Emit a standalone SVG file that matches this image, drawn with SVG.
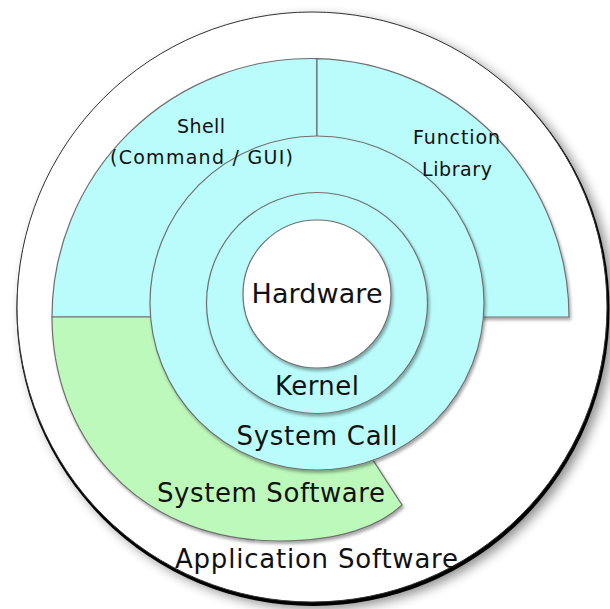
<svg xmlns="http://www.w3.org/2000/svg" width="610" height="609" viewBox="0 0 610 609">
<defs>
<filter id="sh" x="-10%" y="-10%" width="130%" height="130%"><feDropShadow dx="1.5" dy="2.5" stdDeviation="1.5" flood-color="#000" flood-opacity="0.35"/></filter>
<filter id="big" x="-10%" y="-10%" width="125%" height="125%"><feGaussianBlur stdDeviation="6"/></filter>
</defs>
<style>
.blue{fill:#bafcfc;stroke:#707070;stroke-width:1.2}
.green{fill:#bdf9bb;stroke:#707070;stroke-width:1.2}
.white{fill:#fff;stroke:#707070;stroke-width:1.2}
text{font-family:"DejaVu Sans","Liberation Sans",sans-serif;fill:#111;text-anchor:middle}
.s{font-size:19px}
.m{font-size:26px}
</style>
<rect width="610" height="609" fill="#fff"/>
<g id="application-software">
<circle cx="318" cy="313" r="296" fill="#000" opacity="0.45" filter="url(#big)"/>
<circle cx="313" cy="309.5" r="296.5" fill="#000"/>
<circle cx="312" cy="307" r="295" fill="#fff" stroke="#333" stroke-width="1"/>
<text class="m" x="316.5" y="568" textLength="283">Application Software</text>
</g>
<g id="shell">
<path class="blue" filter="url(#sh)" d="M 52 317 A 258.5 258.5 0 0 1 317 58.6 L 317 317 Z"/>
</g>
<g id="function-library">
<path class="blue" filter="url(#sh)" d="M 317 58.6 A 258.5 258.5 0 0 1 569 317 L 317 317 Z"/>
</g>
<g id="system-software">
<path class="green" filter="url(#sh)" d="M 52 317 C 52 430 130 541 280 541 C 340 541 380 526 402 505 L 360 440 L 317 317 Z"/>
</g>
<g id="system-call">
<circle class="blue" filter="url(#sh)" cx="317" cy="303" r="167"/>
</g>
<g id="kernel">
<circle class="blue" filter="url(#sh)" cx="317" cy="303" r="110.5"/>
</g>
<g id="hardware">
<circle class="white" filter="url(#sh)" cx="317" cy="294" r="74"/>
<text class="m" x="317" y="303" textLength="131" style="font-size:27px">Hardware</text>
</g>
<g id="labels">
<g id="shell-label">
<text class="s" x="201" y="133" textLength="48">Shell</text>
<text class="s" x="201.5" y="164" textLength="183">(Command / GUI)</text>
</g>
<g id="function-library-label">
<text class="s" x="456.5" y="144" textLength="87">Function</text>
<text class="s" x="457" y="176" textLength="70">Library</text>
</g>
<text id="system-software-label" class="m" x="271" y="502" textLength="228">System Software</text>
<text id="system-call-label" class="m" x="317" y="445" textLength="161">System Call</text>
<text id="kernel-label" class="m" x="317" y="395" textLength="84">Kernel</text>
</g>
<g id="connectors"/>
</svg>
